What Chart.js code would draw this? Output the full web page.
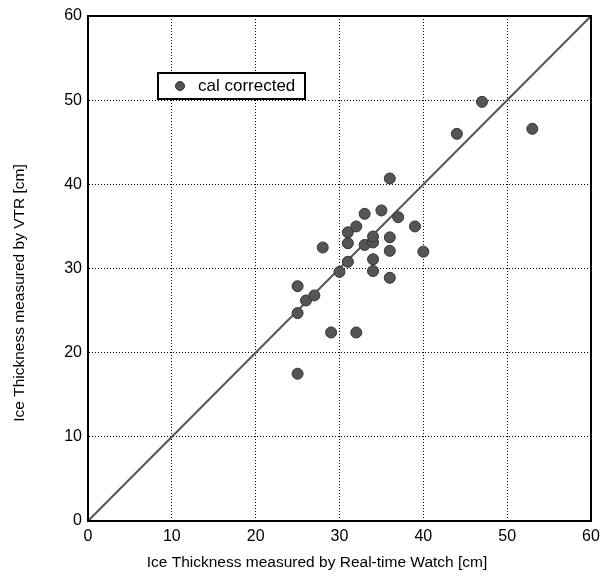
<!DOCTYPE html>
<html>
<head>
<meta charset="utf-8">
<script src="https://cdn.jsdelivr.net/npm/chart.js@4"></script>
<style>
html,body{margin:0;padding:0;background:#fff;}
#wrap{width:609px;height:580px;}
</style>
</head>
<body>
<div id="wrap"><canvas id="c" width="609" height="580"></canvas></div>
<script>
const watchX = [25, 29, 32, 25, 26, 27, 25, 30, 31, 34, 34, 36, 28, 31, 33, 34, 34, 31, 32, 36, 36, 40, 33, 35, 37, 39, 36, 44, 47, 53];
const vtrY   = [17.5, 22.4, 22.4, 24.7, 26.2, 26.8, 27.9, 29.6, 30.8, 29.7, 31.1, 28.9, 32.5, 33.0, 32.8, 33.1, 33.8, 34.3, 35.0, 33.7, 32.1, 32.0, 36.5, 36.9, 36.1, 35.0, 40.7, 46.0, 49.8, 46.6];
const lineX = [0, 60];
const lineY = [0, 60];
const tickValues = [0, 10, 20, 30, 40, 50, 60];
const seriesName = 'cal corrected';
const xTitle = 'Ice Thickness measured by Real-time Watch [cm]';
const yTitle = 'Ice Thickness measured by VTR [cm]';

const pts = watchX.map((x, i) => ({x: x, y: vtrY[i]}));
const diag = lineX.map((x, i) => ({x: x, y: lineY[i]}));

const FONT = '"Liberation Sans", Arial, sans-serif';

const framePlugin = {
  id: 'frame',
  afterDraw(chart) {
    const {ctx, chartArea: a} = chart;
    ctx.save();
    ctx.strokeStyle = '#000';
    ctx.lineWidth = 2;
    ctx.setLineDash([]);
    ctx.strokeRect(a.left, a.top, a.right - a.left, a.bottom - a.top);
    // legend box
    const bx = 158, by = 73, bw = 147, bh = 26;
    ctx.fillStyle = '#fff';
    ctx.fillRect(bx, by, bw, bh);
    ctx.lineWidth = 2;
    ctx.strokeStyle = '#000';
    ctx.strokeRect(bx, by, bw, bh);
    ctx.beginPath();
    ctx.arc(bx + 22, by + bh / 2, 4.5, 0, Math.PI * 2);
    ctx.fillStyle = '#555';
    ctx.fill();
    ctx.lineWidth = 1;
    ctx.strokeStyle = '#333';
    ctx.stroke();
    ctx.fillStyle = '#000';
    ctx.font = '17px ' + FONT;
    ctx.textBaseline = 'middle';
    ctx.textAlign = 'left';
    ctx.fillText(seriesName, bx + 40, by + bh / 2);
    // axis titles
    ctx.font = '15.5px ' + FONT;
    ctx.textAlign = 'center';
    ctx.fillText(xTitle, 317, 563);
    ctx.translate(20, 293);
    ctx.rotate(-Math.PI / 2);
    ctx.fillText(yTitle, 0, 0);
    ctx.restore();
  }
};

const tickFont = {family: FONT, size: 16};

new Chart(document.getElementById('c'), {
  type: 'scatter',
  data: {
    datasets: [
      {
        label: 'diag',
        data: diag,
        showLine: true,
        borderColor: '#555',
        borderWidth: 2,
        pointRadius: 0,
        fill: false,
        order: 2
      },
      {
        label: seriesName,
        data: pts,
        backgroundColor: '#555',
        borderColor: '#333',
        borderWidth: 1,
        pointRadius: 5.5,
        order: 1
      }
    ]
  },
  options: {
    responsive: false,
    animation: false,
    devicePixelRatio: 1,
    layout: {padding: {left: 0, right: 18, top: 16, bottom: 0}},
    plugins: {legend: {display: false}, tooltip: {enabled: false}},
    scales: {
      x: {
        type: 'linear', min: 0, max: 60,
        afterBuildTicks(s) { s.ticks = tickValues.map(v => ({value: v})); },
        afterFit(s) { s.height = 59; },
        grid: {color: '#000', lineWidth: 1, tickLength: 0, drawTicks: false},
        border: {display: true, color: '#000', width: 2, dash: [1, 2]},
        ticks: {color: '#000', font: tickFont, padding: 6, maxRotation: 0},
        title: {display: false}
      },
      y: {
        type: 'linear', min: 0, max: 60,
        afterBuildTicks(s) { s.ticks = tickValues.map(v => ({value: v})); },
        afterFit(s) { s.width = 88; },
        grid: {color: '#000', lineWidth: 1, tickLength: 0, drawTicks: false},
        border: {display: true, color: '#000', width: 2, dash: [1, 2]},
        ticks: {color: '#000', font: tickFont, padding: 6},
        title: {display: false}
      }
    }
  },
  plugins: [framePlugin]
});
</script>
</body>
</html>
